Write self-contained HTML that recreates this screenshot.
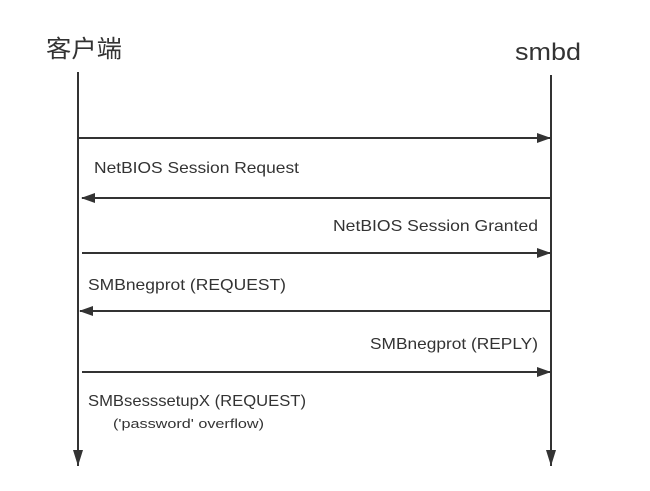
<!DOCTYPE html>
<html><head><meta charset="utf-8"><style>
html,body{margin:0;padding:0;background:#fff;}
svg{display:block;}
text{font-family:"Liberation Sans","Noto Sans CJK SC",sans-serif;fill:#333;}
</style></head><body>
<svg width="650" height="491" viewBox="0 0 650 491" xmlns="http://www.w3.org/2000/svg">
<defs>
<marker id="a" markerWidth="14" markerHeight="10" refX="13" refY="5" orient="auto" markerUnits="userSpaceOnUse">
<path d="M0,0 L14,5 L0,10 Z" fill="#333"/>
</marker>
</defs>
<g stroke="#333" stroke-width="2" fill="none">
<line x1="78" y1="72" x2="78" y2="466"/>
<path d="M73,450 L83,450 L78,466 Z" fill="#333" stroke="none"/>
<line x1="551" y1="75" x2="551" y2="466"/>
<path d="M546,450 L556,450 L551,466 Z" fill="#333" stroke="none"/>
<line x1="78" y1="138" x2="550" y2="138" marker-end="url(#a)"/>
<line x1="551" y1="198" x2="82" y2="198" marker-end="url(#a)"/>
<line x1="82" y1="253" x2="550" y2="253" marker-end="url(#a)"/>
<line x1="551" y1="311" x2="80" y2="311" marker-end="url(#a)"/>
<line x1="82" y1="372" x2="550" y2="372" marker-end="url(#a)"/>
</g>
<text x="46" y="57" font-size="24" textLength="76" lengthAdjust="spacingAndGlyphs">客户端</text>
<text x="515" y="60" font-size="24" textLength="66" lengthAdjust="spacingAndGlyphs">smbd</text>
<text x="94" y="173" font-size="16" textLength="205" lengthAdjust="spacingAndGlyphs">NetBIOS Session Request</text>
<text x="333" y="231" font-size="16" textLength="205" lengthAdjust="spacingAndGlyphs">NetBIOS Session Granted</text>
<text x="88" y="290" font-size="16" textLength="198" lengthAdjust="spacingAndGlyphs">SMBnegprot (REQUEST)</text>
<text x="370" y="349" font-size="16" textLength="168" lengthAdjust="spacingAndGlyphs">SMBnegprot (REPLY)</text>
<text x="88" y="406" font-size="16" textLength="218" lengthAdjust="spacingAndGlyphs">SMBsesssetupX (REQUEST)</text>
<text x="113" y="428" font-size="13" textLength="151" lengthAdjust="spacingAndGlyphs">('password' overflow)</text>
</svg>
</body></html>
